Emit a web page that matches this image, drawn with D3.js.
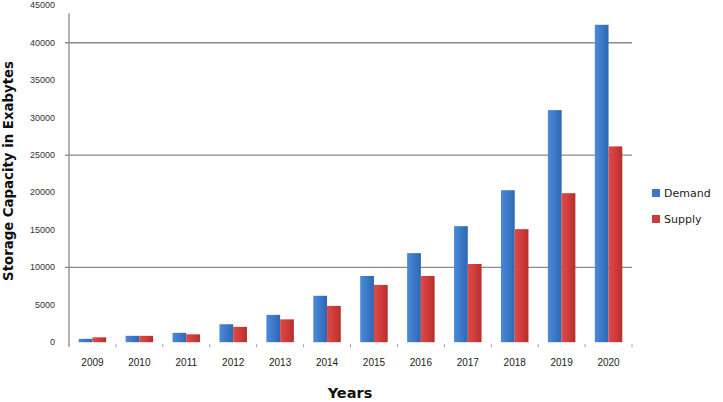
<!DOCTYPE html>
<html><head><meta charset="utf-8">
<script src="https://cdn.jsdelivr.net/npm/d3@7"></script>
<style>body{margin:0;background:#fff}svg{display:block}</style>
</head><body>
<svg id="c" width="723" height="402"></svg>
<script>
const years = ["2009","2010","2011","2012","2013","2014","2015","2016","2017","2018","2019","2020"];
const demand = [450, 850, 1250, 2400, 3650, 6200, 8850, 11900, 15500, 20300, 31000, 42400];
const supply = [650, 850, 1050, 2050, 3050, 4850, 7650, 8850, 10450, 15100, 19900, 26150];
const yTicks = [0,5000,10000,15000,20000,25000,30000,35000,40000,45000];
const gridVals = [10000,25000,40000];
const seriesNames = ["Demand","Supply"];
const colors = {Demand:"#3c79c8", Supply:"#cf3c3a"};

const svg = d3.select("#c");
const m = {l:69, r:632, t:5.3, b:342.2};
const x = d3.scaleBand().domain(years).range([m.l, m.r]).paddingInner(0).paddingOuter(0);
const x1 = d3.scaleBand().domain(seriesNames).range([0, 27.5]);
const y = d3.scaleLinear().domain([0,45000]).range([m.b, m.t]);

const defs = svg.append("defs");
[["Demand","#2f66b0","#4a8bd8"],["Supply","#b52f2d","#dd4a46"]].forEach(([n,a,b])=>{
  const g = defs.append("linearGradient").attr("id","g"+n).attr("x1","0").attr("x2","1").attr("y1","0").attr("y2","0");
  g.append("stop").attr("offset","0").attr("stop-color",b);
  g.append("stop").attr("offset","0.5").attr("stop-color",colors[n]);
  g.append("stop").attr("offset","1").attr("stop-color",a);
});

// gridlines
svg.append("g").selectAll("line").data(gridVals).join("line")
  .attr("x1", m.l-4).attr("x2", m.r).attr("y1", d=>y(d)).attr("y2", d=>y(d))
  .attr("stroke","#8a8a8a").attr("stroke-width",1.3);

// y axis line
svg.append("line").attr("x1",m.l).attr("x2",m.l).attr("y1",y(45000)+8).attr("y2",m.b+4)
  .attr("stroke","#8a8a8a").attr("stroke-width",1.3);

// y tick labels
svg.append("g").selectAll("text").data(yTicks).join("text")
  .attr("x", 55).attr("y", d=>y(d)+3).attr("text-anchor","end")
  .attr("font-family","Liberation Sans, Arial, sans-serif").attr("font-size",9).attr("fill","#333")
  .text(d=>d);

// x category tick marks
svg.append("g").selectAll("line").data(d3.range(years.length+1)).join("line")
  .attr("x1", i=> m.l + i*x.bandwidth()).attr("x2", i=> m.l + i*x.bandwidth())
  .attr("y1", m.b+2).attr("y2", m.b+5).attr("stroke","#999").attr("stroke-width",1);

// bars
const data = years.map((yr,i)=>({yr, vals:[{s:"Demand",v:demand[i]},{s:"Supply",v:supply[i]}]}));
const grp = svg.append("g").selectAll("g").data(data).join("g")
  .attr("transform", d=>`translate(${x(d.yr)+ (x.bandwidth()-27.5)/2},0)`);
grp.selectAll("rect").data(d=>d.vals).join("rect")
  .attr("x", d=>x1(d.s)).attr("width", x1.bandwidth())
  .attr("y", d=>y(d.v)).attr("height", d=>m.b - y(d.v))
  .attr("fill", d=>`url(#g${d.s})`);

// x labels
svg.append("g").selectAll("text").data(years).join("text")
  .attr("x", d=>x(d)+x.bandwidth()/2).attr("y", 366).attr("text-anchor","middle")
  .attr("font-family","Liberation Sans, Arial, sans-serif").attr("font-size",10).attr("fill","#222")
  .text(d=>d);

// axis titles
svg.append("text").attr("x", 350).attr("y", 398).attr("text-anchor","middle")
  .attr("font-family","DejaVu Sans, sans-serif").attr("font-weight","bold").attr("font-size",14.5).attr("fill","#111")
  .text("Years");
svg.append("text").attr("transform","translate(13,171) rotate(-90)").attr("text-anchor","middle")
  .attr("font-family","DejaVu Sans, sans-serif").attr("font-weight","bold").attr("font-size",13.3).attr("fill","#111")
  .text("Storage Capacity in Exabytes");

// legend
const lg = svg.append("g").selectAll("g").data(seriesNames).join("g")
  .attr("transform",(d,i)=>`translate(652,${189 + i*26})`);
lg.append("rect").attr("width",8).attr("height",8).attr("fill",d=>colors[d]);
lg.append("text").attr("x",12).attr("y",8).attr("font-family","DejaVu Sans, sans-serif")
  .attr("font-size",11).attr("fill","#222").text(d=>d);
</script>
</body></html>
